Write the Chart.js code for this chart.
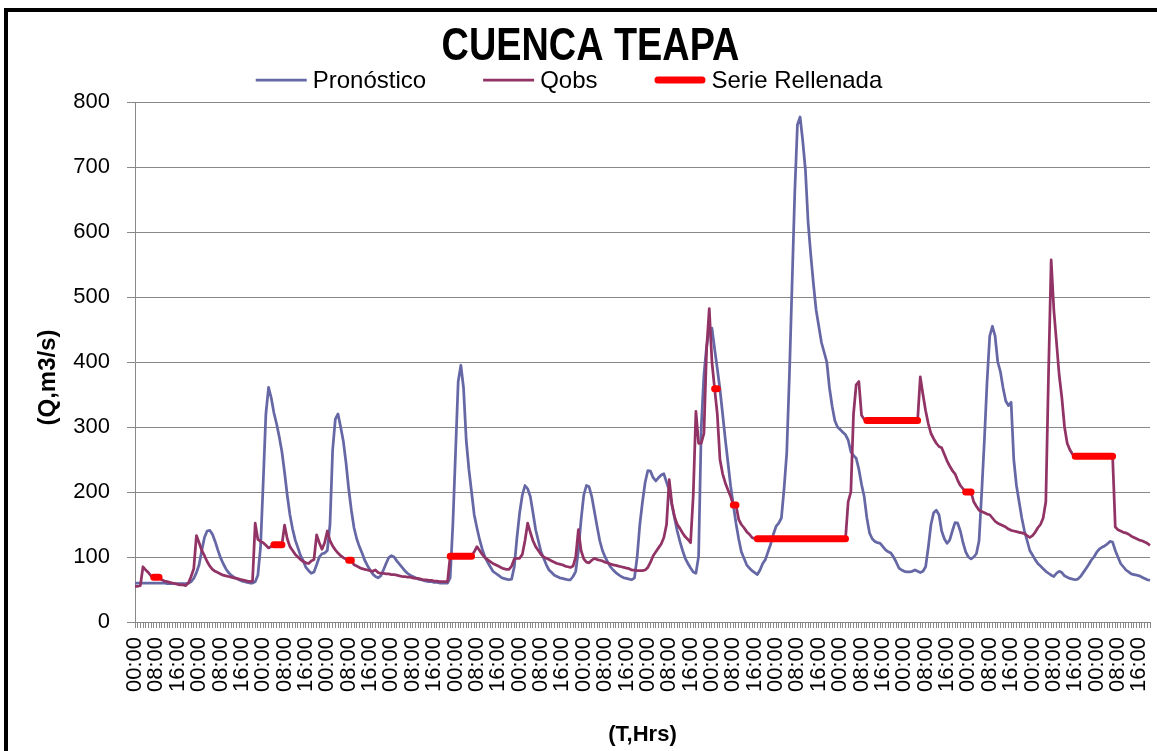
<!DOCTYPE html>
<html lang="es">
<head>
<meta charset="utf-8">
<title>CUENCA TEAPA</title>
<script src="https://cdn.jsdelivr.net/npm/chart.js@4.4.1/dist/chart.umd.min.js"></script>
<style>
  html, body { margin: 0; padding: 0; background: #fff; overflow: hidden; }
  #marco { position: absolute; left: 4px; top: 8px; width: 1300px; height: 900px;
           border-left: 4px solid #000; border-top: 4px solid #000; }
  #grafica { position: absolute; left: 0; top: 0; }
</style>
</head>
<body>
<div id="marco"></div>
<canvas id="grafica" width="1157" height="751"></canvas>
<script>
// Caudal horario (m3/s), un renglón por día de 24 horas.
const pronostico = [
  60,60,60,60,60,60,60,60,60,60,60,60,59,59,59,59,59,59,59,59,60,62,67,76,
  88,110,130,140,141,135,124,111,99,90,82,76,72,69,67,65,63,62,61,60,60,62,72,115,
  215,320,361,345,322,305,285,262,230,195,165,143,126,114,102,94,84,79,75,77,88,100,105,106,
  110,150,265,312,320,300,278,245,205,172,145,128,116,106,95,87,80,74,70,68,71,80,90,99,
  102,100,94,89,84,79,75,72,70,68,66,65,64,63,62,62,61,61,60,60,60,60,68,150,
  260,370,395,360,280,235,200,165,145,127,112,100,92,85,78,75,72,69,67,66,65,66,85,130,
  168,195,210,205,193,168,142,125,108,98,88,80,76,72,70,68,67,66,65,65,70,78,110,157,
  195,210,208,193,170,147,125,110,100,92,85,80,76,73,70,68,67,66,65,68,100,150,185,215,
  233,232,222,217,222,226,228,215,203,180,160,140,124,110,98,90,83,77,75,101,300,380,424,450,
  452,420,390,358,320,281,245,209,180,152,128,108,98,88,83,79,76,73,80,90,96,108,120,135,
  147,152,160,205,260,380,520,660,765,777,740,695,615,565,520,480,455,430,415,400,360,332,310,300,
  296,292,288,280,262,256,252,235,212,193,160,137,128,124,122,121,116,111,108,106,100,92,83,80,
  78,77,77,78,80,78,76,78,85,115,150,168,172,165,140,128,121,126,140,153,152,140,122,108,
  100,97,100,105,125,200,280,370,440,455,440,400,385,360,340,333,338,250,210,185,160,140,125,110,
  103,96,90,86,82,78,75,72,70,75,78,76,71,69,67,66,65,66,70,76,82,88,95,100,
  107,112,115,117,120,124,123,110,100,90,85,80,77,74,73,72,71,69,67,65,64
];

const qobs = [
  55,55,56,85,80,76,71,69,69,69,65,63,62,61,60,59,58,57,57,56,60,70,82,133,
  122,110,102,93,86,81,78,76,74,72,71,70,69,68,67,66,65,64,63,62,63,152,127,124,
  122,118,114,116,119,119,119,119,149,128,116,110,104,100,96,93,91,90,94,96,134,122,112,122,
  140,125,117,111,106,102,99,97,95,95,88,86,84,82,81,80,79,78,80,76,75,75,74,74,
  73,73,72,71,70,70,69,69,68,67,67,66,65,65,64,64,63,63,62,62,62,62,101,101,
  101,101,101,101,101,101,101,108,116,110,104,99,96,93,90,88,86,84,82,81,81,86,97,98,
  98,104,125,152,138,125,116,110,104,100,98,96,94,92,90,89,88,86,85,84,86,100,142,110,
  97,92,91,95,98,96,95,94,92,91,89,88,87,86,85,84,83,82,80,80,79,79,79,80,
  84,92,102,108,114,120,130,150,219,182,162,150,144,137,131,127,122,195,324,275,275,290,420,482,
  400,359,320,250,228,214,203,193,180,180,158,150,145,139,135,130,128,128,128,128,128,128,128,128,
  128,128,128,128,128,128,128,128,128,128,128,128,128,128,128,128,128,128,128,128,128,128,128,128,
  128,128,128,185,200,320,365,370,318,312,310,310,310,310,310,310,310,310,310,310,310,310,310,310,
  310,310,310,310,310,310,377,350,325,305,290,282,275,270,268,258,248,240,233,228,218,210,205,200,
  200,200,185,178,172,170,168,166,165,160,155,152,150,148,146,143,141,140,139,138,137,136,133,130,
  133,138,145,150,160,185,380,557,480,430,380,345,300,275,265,258,255,255,255,255,255,255,255,255,
  255,255,255,255,255,255,255,146,142,140,138,137,135,132,130,128,126,125,123,121,118
];

const _ = null; // hora sin dato rellenado
const serieRellenada = [
  _,_,_,_,_,_,_,69,69,69,_,_,_,_,_,_,_,_,_,_,_,_,_,_,
  _,_,_,_,_,_,_,_,_,_,_,_,_,_,_,_,_,_,_,_,_,_,_,_,
  _,_,_,_,119,119,119,119,_,_,_,_,_,_,_,_,_,_,_,_,_,_,_,_,
  _,_,_,_,_,_,_,_,95,95,_,_,_,_,_,_,_,_,_,_,_,_,_,_,
  _,_,_,_,_,_,_,_,_,_,_,_,_,_,_,_,_,_,_,_,_,_,101,101,
  101,101,101,101,101,101,101,_,_,_,_,_,_,_,_,_,_,_,_,_,_,_,_,_,
  _,_,_,_,_,_,_,_,_,_,_,_,_,_,_,_,_,_,_,_,_,_,_,_,
  _,_,_,_,_,_,_,_,_,_,_,_,_,_,_,_,_,_,_,_,_,_,_,_,
  _,_,_,_,_,_,_,_,_,_,_,_,_,_,_,_,_,_,_,_,_,_,_,_,
  _,359,359,_,_,_,_,_,180,180,_,_,_,_,_,_,_,128,128,128,128,128,128,128,
  128,128,128,128,128,128,128,128,128,128,128,128,128,128,128,128,128,128,128,128,128,128,128,128,
  128,128,128,_,_,_,_,_,_,_,310,310,310,310,310,310,310,310,310,310,310,310,310,310,
  310,310,310,310,310,310,_,_,_,_,_,_,_,_,_,_,_,_,_,_,_,_,_,200,
  200,200,_,_,_,_,_,_,_,_,_,_,_,_,_,_,_,_,_,_,_,_,_,_,
  _,_,_,_,_,_,_,_,_,_,_,_,_,_,_,_,255,255,255,255,255,255,255,255,
  255,255,255,255,255,255,255,_,_,_,_,_,_,_,_,_,_,_,_,_,_
];

const etiquetasEje = ['00:00', '08:00', '16:00'];
const pasoEtiqueta = 8;
const ticksY = [0, 100, 200, 300, 400, 500, 600, 700, 800];

// Categorías: una por hora, etiquetadas como HH:00.
const horas = pronostico.map((v, i) => String(i % 24).padStart(2, '0') + ':00');

const gris = '#888888';

// Ajustes de dibujo: título comprimido, título del eje Y desplazado y leyenda en una fila.
const leyendaLineas = {
  id: 'leyendaLineas',
  afterInit(chart, args, opts) {
    const bloque = chart.titleBlock;
    if (bloque) {
      const dibujar = bloque.draw.bind(bloque);
      bloque.draw = function (area) {
        const ctx = this.ctx;
        const cx = (this.left + this.right) / 2;
        ctx.save();
        ctx.translate(cx, 0);
        ctx.scale(opts.titleScaleX, 1);
        ctx.translate(-cx, 0);
        dibujar(area);
        ctx.restore();
      };
    }
  },
  beforeDraw(chart, args, opts) {
    const s = chart.scales.y;
    if (s && !s._tituloDesplazado) {
      const dibujarTitulo = s.drawTitle.bind(s);
      s.drawTitle = function () {
        const ctx = this.ctx;
        ctx.save();
        ctx.translate(0, opts.yTitleShift);
        dibujarTitulo();
        ctx.restore();
      };
      s._tituloDesplazado = true;
    }
  },
  afterDraw(chart, args, opts) {
    const ctx = chart.ctx;
    const sets = chart.data.datasets;
    ctx.save();
    ctx.font = opts.fontSize + 'px ' + opts.fontFamily;
    ctx.textBaseline = 'middle';
    ctx.textAlign = 'left';
    const anchos = sets.map(d => opts.lineLength + opts.gap + ctx.measureText(d.label).width);
    const total = anchos.reduce((a, b) => a + b, 0) + opts.spacing * (sets.length - 1);
    let x = opts.centerX - total / 2;
    sets.forEach((d, k) => {
      ctx.beginPath();
      ctx.strokeStyle = d.borderColor;
      ctx.lineWidth = d.borderWidth;
      ctx.lineCap = d.borderCapStyle || 'butt';
      const r = ctx.lineCap === 'round' ? d.borderWidth / 2 : 0;
      ctx.moveTo(x + r, opts.y);
      ctx.lineTo(x + opts.lineLength - r, opts.y);
      ctx.stroke();
      ctx.fillStyle = '#000';
      ctx.fillText(d.label, x + opts.lineLength + opts.gap, opts.y + 1);
      x += anchos[k] + opts.spacing;
    });
    ctx.restore();
  }
};

Chart.defaults.font.family = "'Liberation Sans', Arial, sans-serif";
Chart.defaults.color = '#000';

new Chart(document.getElementById('grafica'), {
  type: 'line',
  data: {
    labels: horas,
    datasets: [
      { label: 'Pronóstico', data: pronostico, borderColor: '#6668a6', backgroundColor: '#6668a6',
        borderWidth: 2.75, pointRadius: 0, tension: 0, borderJoinStyle: 'round', order: 2 },
      { label: 'Qobs', data: qobs, borderColor: '#923365', backgroundColor: '#923365',
        borderWidth: 2.75, pointRadius: 0, tension: 0, borderJoinStyle: 'round', order: 1 },
      { label: 'Serie Rellenada', data: serieRellenada, borderColor: '#ff0000', backgroundColor: '#ff0000',
        borderWidth: 7, pointRadius: 0, tension: 0, borderCapStyle: 'round', borderJoinStyle: 'round',
        spanGaps: false, order: 0 }
    ]
  },
  options: {
    responsive: false,
    animation: false,
    devicePixelRatio: 1,
    events: [],
    layout: { padding: { left: 31, right: 7, top: 0, bottom: 0 } },
    plugins: {
      legend: { display: false },
      tooltip: { enabled: false },
      title: {
        display: true,
        text: 'CUENCA TEAPA',
        color: '#000',
        font: { size: 47, weight: 'bold', family: "'Liberation Sans', Arial, sans-serif" },
        padding: { top: 19, bottom: 26.6 }
      },
      leyendaLineas: {
        centerX: 569, y: 80, lineLength: 51, gap: 6, spacing: 57, fontSize: 24,
        fontFamily: "'Liberation Sans', Arial, sans-serif",
        titleScaleX: 0.805,
        yTitleShift: 15.5
      }
    },
    scales: {
      x: {
        offset: false,
        grid: { drawOnChartArea: false, drawTicks: true, tickLength: 6, color: gris, lineWidth: 1 },
        border: { display: true, color: gris, width: 1 },
        ticks: {
          autoSkip: false, maxRotation: 90, minRotation: 90, padding: 9,
          font: { size: 22 }, color: '#000',
          callback: (v, i) => (i % pasoEtiqueta === 0 ? etiquetasEje[(i / pasoEtiqueta) % etiquetasEje.length] : '')
        },
        title: { display: true, text: '(T,Hrs)', color: '#000',
                 font: { size: 22, weight: 'bold' }, padding: { top: 4, bottom: 2.8 } },
        afterFit(scale) {
          scale.height = 129;
          scale.paddingLeft = 0;
          scale.paddingRight = 0;
        }
      },
      y: {
        min: ticksY[0],
        max: ticksY[ticksY.length - 1],
        afterBuildTicks(scale) { scale.ticks = ticksY.map(v => ({ value: v })); },
        grid: { color: gris, lineWidth: 1, tickLength: 8, drawTicks: true },
        border: { display: true, color: gris, width: 1 },
        ticks: { padding: 17, font: { size: 22 }, color: '#000' },
        title: { display: true, text: '(Q,m3/s)', color: '#000',
                 font: { size: 24, weight: 'bold' }, padding: { top: 2.6, bottom: 4 } },
        afterFit(scale) { scale.width = 104; }
      }
    }
  },
  plugins: [leyendaLineas]
});
</script>
</body>
</html>
